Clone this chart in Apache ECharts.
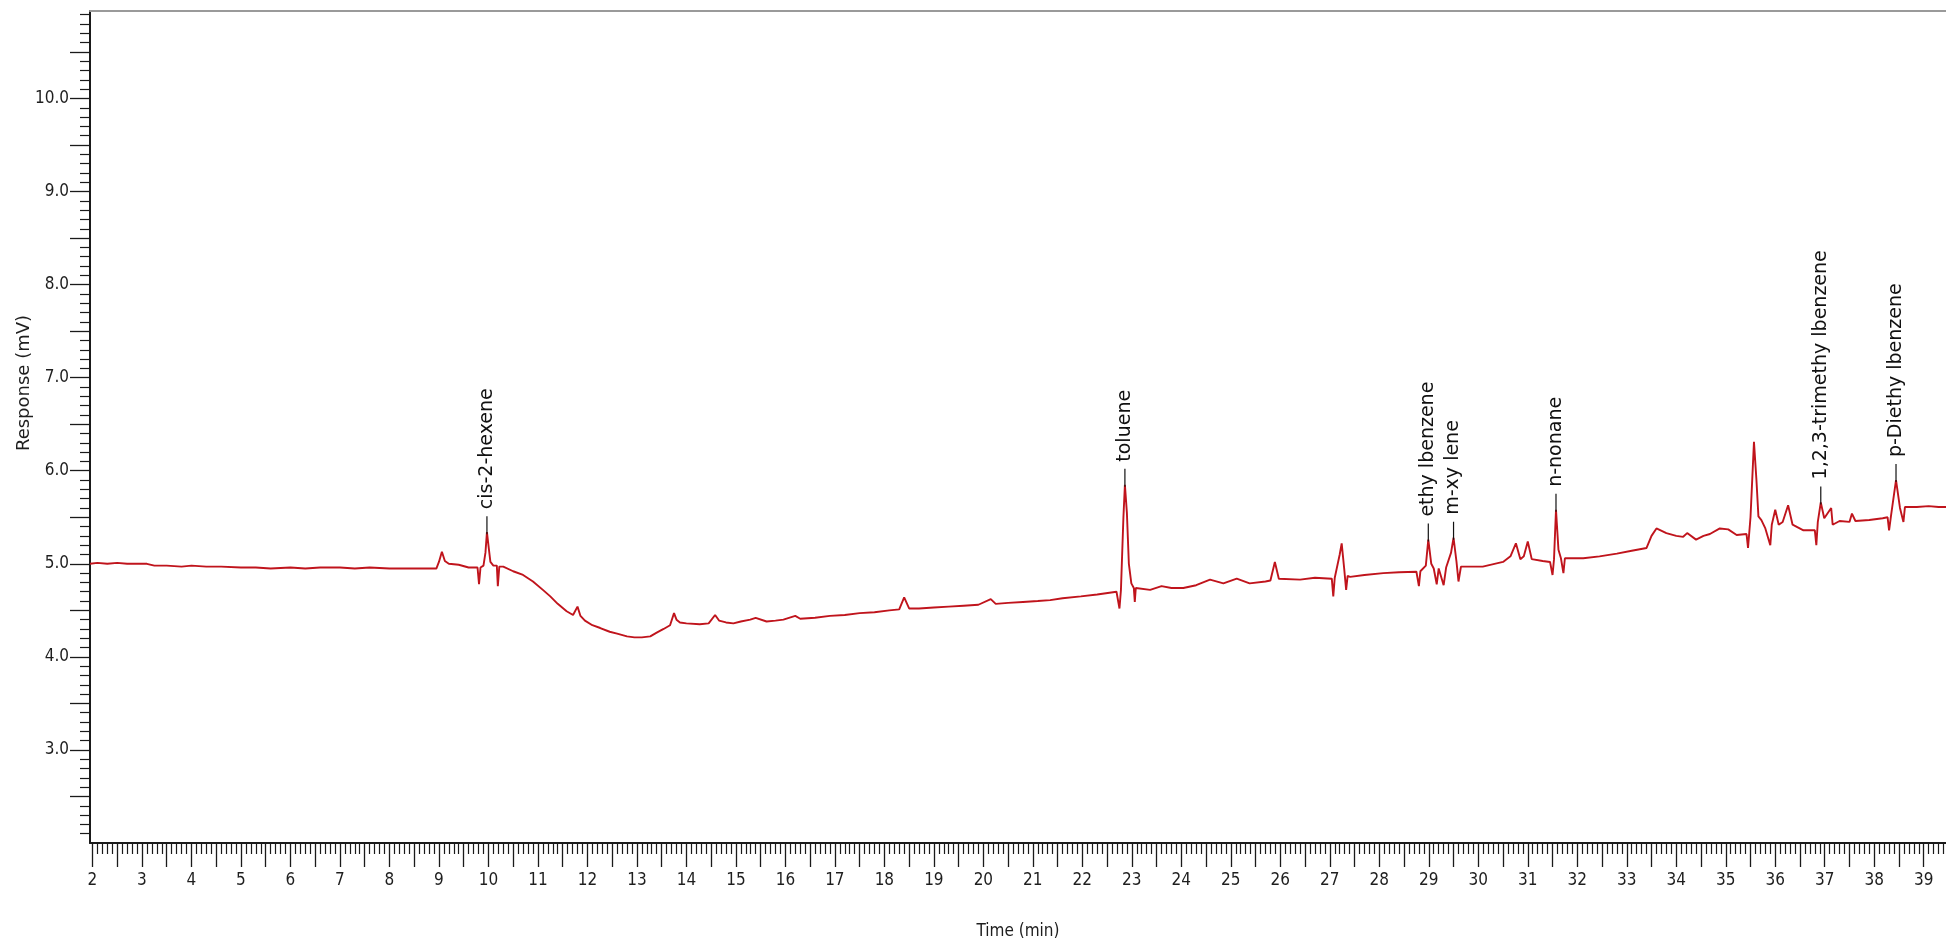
<!DOCTYPE html>
<html>
<head>
<meta charset="utf-8">
<script src="https://cdn.jsdelivr.net/npm/echarts@6/dist/echarts.min.js"></script>
<style>
html,body{margin:0;padding:0;background:#fff;}
#c{width:1946px;height:946px;}
</style>
</head>
<body>
<div id="c"></div>
<script>
// Chromatogram trace (time in min, response in mV)
const traceTime = [1.95,2.1,2.3,2.5,2.7,2.9,3.1,3.25,3.5,3.8,4.0,4.3,4.6,5.0,5.3,5.6,6.0,6.3,6.6,7.0,7.3,7.6,8.0,8.3,8.7,8.95,9.0,9.06,9.12,9.2,9.4,9.6,9.78,9.81,9.84,9.9,9.94,9.97,10.0,10.04,10.1,10.17,10.19,10.22,10.3,10.5,10.7,10.9,11.1,11.25,11.4,11.58,11.71,11.8,11.86,11.95,12.1,12.26,12.45,12.6,12.8,12.95,13.1,13.27,13.4,13.54,13.67,13.75,13.8,13.87,14.0,14.27,14.45,14.58,14.66,14.8,14.95,15.1,15.29,15.4,15.62,15.8,15.96,16.2,16.3,16.6,16.9,17.2,17.5,17.8,18.1,18.3,18.4,18.5,18.7,19.0,19.3,19.6,19.9,20.15,20.25,20.5,20.8,21.1,21.35,21.6,21.97,22.3,22.69,22.75,22.78,22.83,22.86,22.9,22.94,22.99,23.04,23.06,23.08,23.37,23.6,23.8,24.04,24.3,24.58,24.85,25.12,25.38,25.7,25.8,25.89,25.97,26.4,26.7,27.04,27.07,27.1,27.2,27.24,27.29,27.33,27.36,27.41,27.7,28.08,28.4,28.75,28.8,28.83,28.94,28.99,29.05,29.1,29.16,29.2,29.3,29.35,29.45,29.5,29.56,29.6,29.65,30.09,30.5,30.65,30.76,30.85,30.92,31.0,31.08,31.3,31.45,31.5,31.53,31.57,31.62,31.67,31.72,31.75,32.12,32.45,32.8,33.1,33.4,33.5,33.6,33.8,34.0,34.14,34.22,34.4,34.55,34.68,34.88,35.05,35.22,35.42,35.45,35.5,35.57,35.62,35.66,35.72,35.8,35.9,35.93,36.0,36.07,36.15,36.26,36.35,36.57,36.8,36.83,36.86,36.92,36.99,37.13,37.16,37.3,37.5,37.55,37.62,37.9,38.17,38.27,38.3,38.34,38.44,38.52,38.59,38.62,38.86,39.1,39.3,39.45];
const traceResponse = [5.00,5.01,5.00,5.01,5.00,5.00,5.00,4.98,4.98,4.97,4.98,4.97,4.97,4.96,4.96,4.95,4.96,4.95,4.96,4.96,4.95,4.96,4.95,4.95,4.95,4.95,5.02,5.13,5.03,5.00,4.99,4.96,4.96,4.78,4.96,4.98,5.12,5.34,5.20,5.02,4.98,4.98,4.76,4.97,4.97,4.92,4.88,4.81,4.72,4.65,4.57,4.49,4.45,4.54,4.44,4.39,4.34,4.31,4.27,4.25,4.22,4.21,4.21,4.22,4.26,4.30,4.34,4.47,4.40,4.37,4.36,4.35,4.36,4.45,4.39,4.37,4.36,4.38,4.40,4.42,4.38,4.39,4.40,4.44,4.41,4.42,4.44,4.45,4.47,4.48,4.50,4.51,4.64,4.52,4.52,4.53,4.54,4.55,4.56,4.62,4.57,4.58,4.59,4.60,4.61,4.63,4.65,4.67,4.70,4.52,4.72,5.50,5.85,5.55,5.00,4.79,4.74,4.59,4.74,4.72,4.76,4.74,4.74,4.77,4.83,4.79,4.84,4.79,4.81,4.82,5.02,4.84,4.83,4.85,4.84,4.65,4.85,5.10,5.22,4.95,4.72,4.87,4.86,4.88,4.90,4.91,4.915,4.76,4.92,4.98,5.26,5.00,4.95,4.78,4.95,4.77,4.96,5.12,5.28,5.02,4.81,4.97,4.97,5.02,5.08,5.22,5.05,5.08,5.24,5.05,5.03,5.02,4.88,5.05,5.58,5.15,5.06,4.90,5.06,5.06,5.08,5.11,5.14,5.17,5.30,5.38,5.33,5.30,5.29,5.33,5.26,5.30,5.32,5.38,5.37,5.31,5.32,5.17,5.50,6.31,5.90,5.51,5.47,5.38,5.20,5.42,5.58,5.42,5.45,5.63,5.42,5.36,5.36,5.20,5.45,5.66,5.49,5.60,5.42,5.46,5.45,5.54,5.46,5.47,5.49,5.50,5.36,5.52,5.90,5.60,5.45,5.61,5.61,5.62,5.61,5.61];

// Peak labels
const peakNames = ['cis-2-hexene','toluene','ethy lbenzene','m-xy lene','n-nonane','1,2,3-trimethy lbenzene','p-Diethy lbenzene'];
const peakTimes = [9.97, 22.86, 28.99, 29.5, 31.57, 36.92, 38.44];
const peakApex  = [5.34, 5.85, 5.26, 5.28, 5.58, 5.66, 5.90];

// Axis tick labels
const yTickLabels = [3,4,5,6,7,8,9,10];
const xTickLabels = [];
for (let i = 2; i <= 39; i++) xTickLabels.push(i);

const xMin = 1.95, xMax = 39.45, yMin = 2, yMax = 10.94;

const xHalf = [], xMinor = [];
for (let k = 20; k <= 394; k++) {
  const v = k / 10;
  if (k % 5 === 0) xHalf.push(v); else xMinor.push(v);
}
const yHalf = [], yMinor = [];
for (let k = 21; k <= 109; k++) {
  const v = k / 10;
  if (k % 5 === 0) yHalf.push(v); else yMinor.push(v);
}

const trace = traceTime.map((t, i) => [t, traceResponse[i]]);
const peaks = peakTimes.map((t, i) => [t, peakApex[i]]);

const chart = echarts.init(document.getElementById('c'), null, {renderer: 'canvas'});
const axisColor = '#1a1a1a';
const narrow = '"DejaVu Sans Condensed", "DejaVu Sans", sans-serif';
chart.setOption({
  backgroundColor: '#ffffff',
  animation: false,
  grid: {left: 90, top: 11, right: 0, bottom: 103, containLabel: false, outerBoundsMode: 'none'},
  xAxis: [
    {
      type: 'value', min: xMin, max: xMax, position: 'bottom',
      axisLine: {show: true, lineStyle: {color: axisColor, width: 2}},
      axisTick: {show: true, length: 24, customValues: xHalf, lineStyle: {color: axisColor, width: 1.3}},
      axisLabel: {show: true, customValues: xTickLabels, margin: 29, color: '#1e1e1e',
        fontFamily: narrow, fontSize: 17, formatter: v => String(Math.round(v))},
      splitLine: {show: false},
      name: 'Time (min)', nameLocation: 'middle', nameGap: 80,
      nameTextStyle: {fontFamily: narrow, fontSize: 17, color: '#1e1e1e'}
    },
    {
      type: 'value', min: xMin, max: xMax, position: 'bottom',
      axisLine: {show: false},
      axisTick: {show: true, length: 11, customValues: xMinor, lineStyle: {color: axisColor, width: 1.2}},
      axisLabel: {show: false}, splitLine: {show: false}
    },
    {
      type: 'value', min: xMin, max: xMax, position: 'top',
      axisLine: {show: true, lineStyle: {color: '#9a9a9a', width: 2}},
      axisTick: {show: false}, axisLabel: {show: false}, splitLine: {show: false}
    }
  ],
  yAxis: [
    {
      type: 'value', min: yMin, max: yMax, position: 'left',
      axisLine: {show: true, lineStyle: {color: axisColor, width: 2}},
      axisTick: {show: true, length: 20, customValues: yHalf, lineStyle: {color: axisColor, width: 1.3}},
      axisLabel: {show: true, customValues: yTickLabels, margin: 21, color: '#1e1e1e',
        fontFamily: narrow, fontSize: 17, formatter: v => v.toFixed(1)},
      splitLine: {show: false}
    },
    {
      type: 'value', min: yMin, max: yMax, position: 'left',
      axisLine: {show: false},
      axisTick: {show: true, length: 10, customValues: yMinor, lineStyle: {color: axisColor, width: 1.2}},
      axisLabel: {show: false}, splitLine: {show: false}
    }
  ],
  graphic: [{
    type: 'text', x: 24, y: 383, rotation: Math.PI / 2,
    style: {text: 'Response (mV)', align: 'center', verticalAlign: 'middle',
      fill: '#1e1e1e', font: '18px "DejaVu Sans"'}
  }],
  series: [
    {
      type: 'line', data: trace, xAxisIndex: 0, yAxisIndex: 0,
      showSymbol: false, symbol: 'none', smooth: false,
      lineStyle: {color: '#c0141c', width: 1.9}, z: 3
    },
    {
      type: 'custom', data: peaks, xAxisIndex: 0, yAxisIndex: 0, clip: false, z: 4,
      renderItem: function (params, api) {
        const p = api.coord([api.value(0), api.value(1)]);
        const top = p[1] - 16;
        return {
          type: 'group',
          children: [
            {type: 'line', shape: {x1: p[0], y1: p[1] + 2, x2: p[0], y2: top},
             style: {stroke: '#111', lineWidth: 1.2}},
            {type: 'text', x: p[0], y: top - 7, rotation: Math.PI / 2,
             style: {text: peakNames[params.dataIndex], align: 'left', verticalAlign: 'middle',
               fill: '#111', font: '19px "DejaVu Sans"'}}
          ]
        };
      }
    }
  ]
});
</script>
</body>
</html>
